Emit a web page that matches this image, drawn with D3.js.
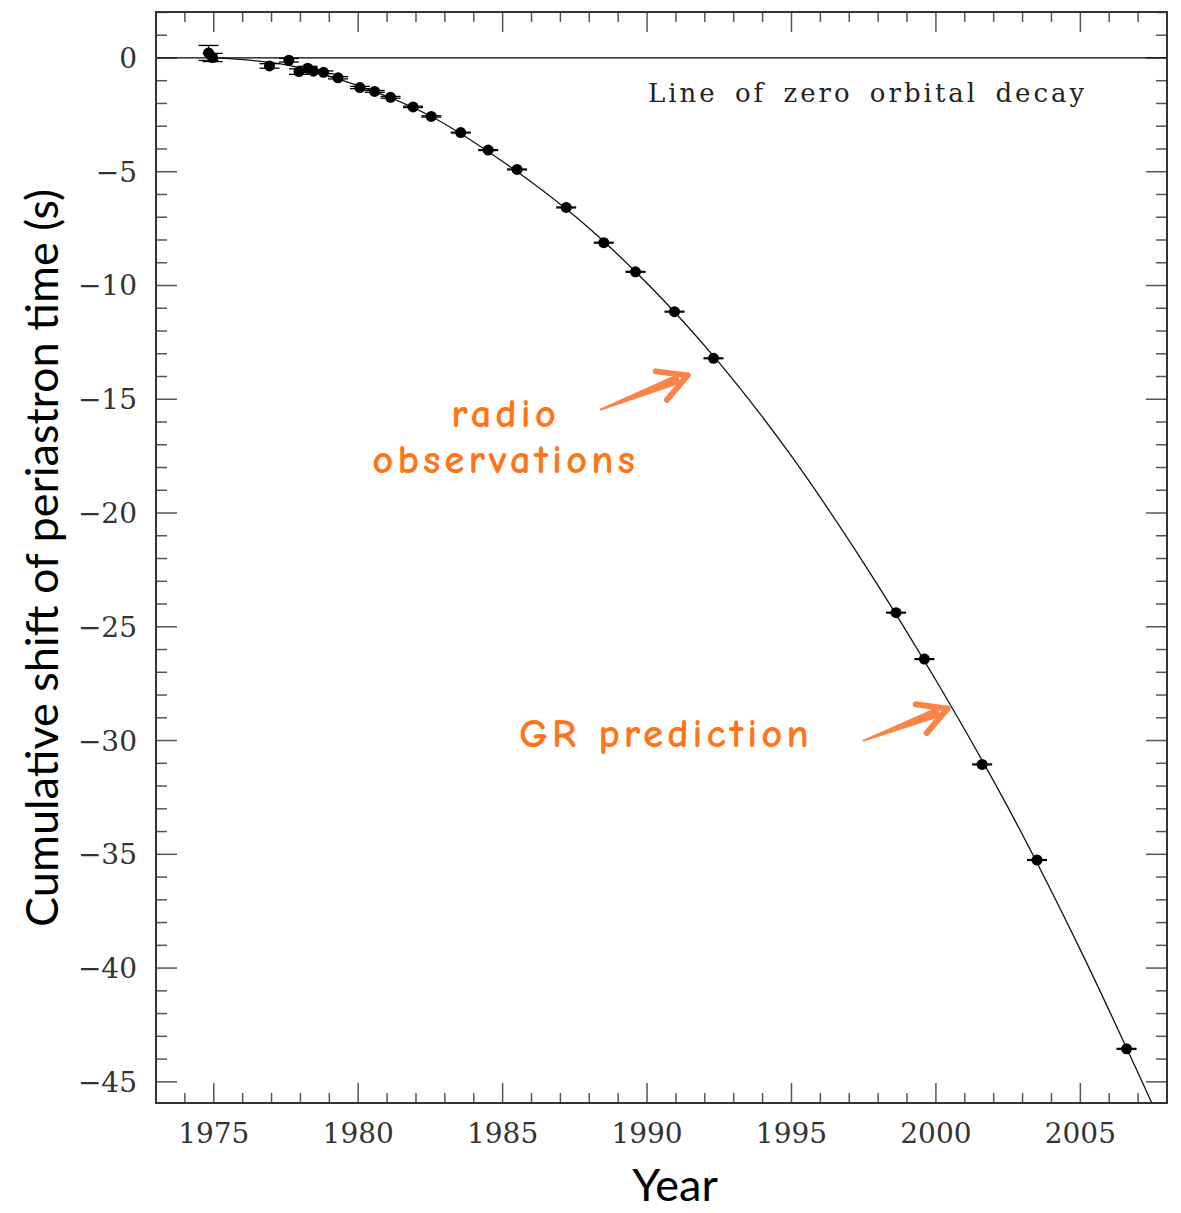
<!DOCTYPE html>
<html>
<head>
<meta charset="utf-8">
<script src="https://cdn.jsdelivr.net/npm/d3@7"></script>
<style>
  body { margin: 0; background: #fff; }
  svg { display: block; }
</style>
</head>
<body>
<svg id="chart"></svg>
<script>
// observed points (year, cumulative shift in s, error in s)
const obsYear = [1974.82, 1974.96, 1976.93, 1977.6, 1977.95, 1978.25, 1978.45, 1978.8, 1979.3,
    1980.06, 1980.57, 1981.12, 1981.9, 1982.53, 1983.55, 1984.5, 1985.5, 1987.2, 1988.5,
    1989.6, 1990.95, 1992.3, 1998.62, 1999.6, 2001.6, 2003.5, 2006.6];
const obsShift = [0.22, 0.02, -0.35, -0.1, -0.6, -0.45, -0.58, -0.63, -0.87,
    -1.3, -1.47, -1.73, -2.15, -2.57, -3.28, -4.05, -4.9, -6.57, -8.12,
    -9.4, -11.15, -13.2, -24.38, -26.42, -31.05, -35.25, -43.55];
const obsErr = [0.33, 0.18, 0.1, 0.08, 0.12, 0.08, 0.06, 0.06, 0.05,
    0.05, 0.04, 0.04, 0.03, 0.03, 0.02, 0.02, 0.02, 0.02, 0.02,
    0.02, 0.02, 0.02, 0.02, 0.02, 0.02, 0.02, 0.02];

// GR prediction curve
const grYear = [1975, 1977.5, 1980, 1982.5, 1985, 1987.5, 1990, 1992.5, 1995, 1997.5, 2000, 2002.5, 2005, 2007.5];
const grShift = [0, -0.3, -1.22, -2.55, -4.55, -6.95, -9.9, -13.4, -17.5, -22.2, -27.35, -32.95, -39.2, -46.0];

const xTicks = [1975, 1980, 1985, 1990, 1995, 2000, 2005];
const yTicks = [0, -5, -10, -15, -20, -25, -30, -35, -40, -45];

const width = 1181, height = 1213;
const margin = {top: 12, right: 14, bottom: 110, left: 156};
const plotW = width - margin.left - margin.right;
const plotH = height - margin.top - margin.bottom;

const svg = d3.select("#chart")
    .attr("width", width)
    .attr("height", height);

const g = svg.append("g")
    .attr("transform", `translate(${margin.left},${margin.top})`);

const x = d3.scaleLinear().domain([1973, 2008]).range([0, plotW]);
const y = d3.scaleLinear().domain([2.02, -45.93]).range([0, plotH]);

const tickFont = "'DejaVu Serif', 'Liberation Serif', serif";
const tickColor = "#555";

// minor + major ticks on all four sides, pointing inward
const xMinor = d3.range(1973, 2009, 1);
const yMinor = d3.range(-45, 3, 1);

g.selectAll(".xtick")
    .data(xMinor)
    .join("g")
    .each(function(d) {
        const len = d % 5 === 0 ? 20 : 10;
        const s = d3.select(this);
        s.append("line").attr("x1", x(d)).attr("x2", x(d)).attr("y1", plotH).attr("y2", plotH - len);
        s.append("line").attr("x1", x(d)).attr("x2", x(d)).attr("y1", 0).attr("y2", len);
    })
    .attr("stroke", tickColor)
    .attr("stroke-width", 1.5);

g.selectAll(".ytick")
    .data(yMinor)
    .join("g")
    .each(function(d) {
        const len = d % 5 === 0 ? 21 : 11;
        const s = d3.select(this);
        s.append("line").attr("y1", y(d)).attr("y2", y(d)).attr("x1", 0).attr("x2", len);
        s.append("line").attr("y1", y(d)).attr("y2", y(d)).attr("x1", plotW).attr("x2", plotW - len);
    })
    .attr("stroke", tickColor)
    .attr("stroke-width", 1.5);

// tick labels
g.selectAll(".xlab")
    .data(xTicks)
    .join("text")
    .attr("x", d => x(d))
    .attr("y", plotH + 40)
    .attr("text-anchor", "middle")
    .attr("font-family", tickFont)
    .attr("font-size", 28)
    .attr("fill", "#333")
    .text(d => d);

g.selectAll(".ylab")
    .data(yTicks)
    .join("text")
    .attr("x", -19)
    .attr("y", d => y(d) + 10)
    .attr("text-anchor", "end")
    .attr("font-family", tickFont)
    .attr("font-size", 28)
    .attr("fill", "#333")
    .text(d => d === 0 ? "0" : "\u2212" + Math.abs(d));

// line of zero orbital decay
g.append("line")
    .attr("x1", 0).attr("x2", plotW)
    .attr("y1", y(0)).attr("y2", y(0))
    .attr("stroke", "#000")
    .attr("stroke-width", 1.3);

g.append("text")
    .attr("x", x(1990.03))
    .attr("y", y(-1.95))
    .attr("text-anchor", "start")
    .attr("font-family", tickFont)
    .attr("font-size", 26)
    .attr("letter-spacing", 3)
    .attr("word-spacing", 6)
    .attr("fill", "#222")
    .text("Line of zero orbital decay");

// GR prediction curve
svg.append("clipPath").attr("id", "plotclip")
    .append("rect").attr("width", plotW).attr("height", plotH);

g.append("path")
    .datum(d3.zip(grYear, grShift))
    .attr("clip-path", "url(#plotclip)")
    .attr("d", d3.line().x(d => x(d[0])).y(d => y(d[1])).curve(d3.curveCatmullRom))
    .attr("fill", "none")
    .attr("stroke", "#111")
    .attr("stroke-width", 1.3);

// observations with error bars
const obs = d3.zip(obsYear, obsShift, obsErr);
const capW = 10;
const pts = g.append("g").selectAll("g")
    .data(obs)
    .join("g");
pts.append("line")
    .attr("x1", d => x(d[0])).attr("x2", d => x(d[0]))
    .attr("y1", d => y(d[1] + d[2])).attr("y2", d => y(d[1] - d[2]))
    .attr("stroke", "#000").attr("stroke-width", 1.3);
pts.append("line")
    .attr("x1", d => x(d[0]) - capW).attr("x2", d => x(d[0]) + capW)
    .attr("y1", d => y(d[1] + d[2])).attr("y2", d => y(d[1] + d[2]))
    .attr("stroke", "#000").attr("stroke-width", 1.3);
pts.append("line")
    .attr("x1", d => x(d[0]) - capW).attr("x2", d => x(d[0]) + capW)
    .attr("y1", d => y(d[1] - d[2])).attr("y2", d => y(d[1] - d[2]))
    .attr("stroke", "#000").attr("stroke-width", 1.3);
pts.append("circle")
    .attr("cx", d => x(d[0]))
    .attr("cy", d => y(d[1]))
    .attr("r", 5.5)
    .attr("fill", "#000");

// frame
g.append("rect")
    .attr("width", plotW).attr("height", plotH)
    .attr("fill", "none")
    .attr("stroke", "#333")
    .attr("stroke-width", 2);

// axis titles
svg.append("text")
    .attr("transform", `translate(58,${558}) rotate(-90)`)
    .attr("text-anchor", "middle")
    .attr("font-family", "Lato, 'Open Sans', sans-serif")
    .attr("font-size", 45)
    .attr("fill", "#000")
    .text("Cumulative shift of periastron time (s)");

svg.append("text")
    .attr("x", 675)
    .attr("y", 1201)
    .attr("text-anchor", "middle")
    .attr("font-family", "Lato, 'Open Sans', sans-serif")
    .attr("font-size", 45)
    .attr("fill", "#000")
    .text("Year");

// annotations
const noteFont = "'Comic Sans MS', 'Comic Neue', 'DejaVu Sans', sans-serif";
const noteColor = "#ff7417";
const arrowColor = "#fa8448";

const notes = g.append("g")
    .attr("font-family", noteFont)
    .attr("font-size", 41)
    .attr("font-weight", 600)
    .attr("letter-spacing", 4)
    .attr("fill", noteColor)
    .attr("text-anchor", "middle");
notes.append("text").attr("x", x(1985.1)).attr("y", y(-16.2)).text("radio");
notes.append("text").attr("x", x(1985.1)).attr("y", y(-18.25)).text("observations");
notes.append("text").attr("x", x(1990.65)).attr("y", y(-30.27)).text("GR prediction");

function arrow(x0, y0, x1, y1) {
    const a = Math.atan2(y1 - y0, x1 - x0);
    const hl = 32, spread = 0.5;
    const ag = g.append("g")
        .attr("stroke", arrowColor)
        .attr("stroke-linecap", "round")
        .attr("stroke-linejoin", "round")
        .attr("fill", "none");
    // tapered shaft: thin at tail, thick near head
    const nx = -Math.sin(a), ny = Math.cos(a);
    const mx = x1 - 10 * Math.cos(a), my = y1 - 10 * Math.sin(a);
    ag.append("path")
        .attr("d", `M${x0},${y0} L${mx + nx * 4},${my + ny * 4} L${mx - nx * 4},${my - ny * 4} Z`)
        .attr("fill", arrowColor)
        .attr("stroke-width", 2);
    [spread, -spread].forEach(s => {
        ag.append("line")
            .attr("x1", x1).attr("y1", y1)
            .attr("x2", x1 - hl * Math.cos(a + s)).attr("y2", y1 - hl * Math.sin(a + s))
            .attr("stroke-width", 6);
    });
}
arrow(x(1988.4), y(-15.45), x(1991.4), y(-13.95));
arrow(x(1997.5), y(-30.0), x(2000.4), y(-28.6));
</script>
</body>
</html>
